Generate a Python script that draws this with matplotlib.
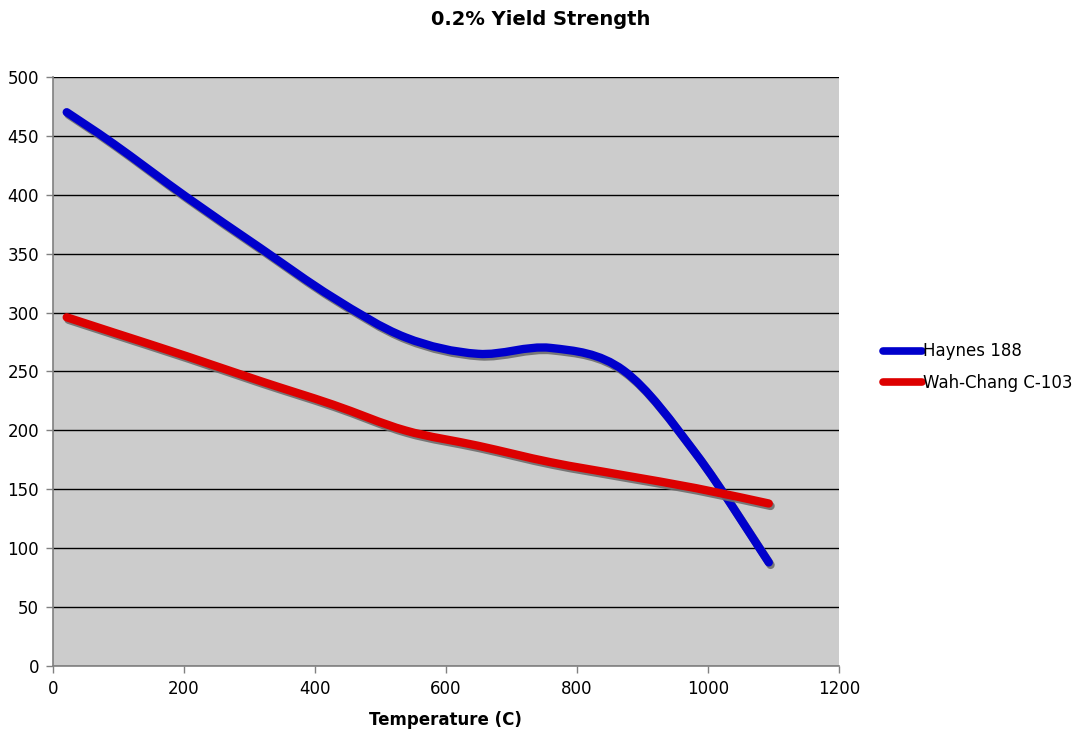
import numpy as np
import matplotlib
matplotlib.use('Agg')
import matplotlib.pyplot as plt
from matplotlib.path import Path
from matplotlib.patches import PathPatch
from matplotlib.lines import Line2D
import matplotlib.patheffects as pe

# Data
temperature = [21, 93, 204, 316, 427, 538, 649, 760, 871, 982, 1093]
haynes_188 = [470, 443, 398, 355, 313, 279, 265, 270, 251, 180, 88]
wah_chang = [296, 283, 263, 242, 222, 200, 187, 173, 162, 151, 138]

series_names = ['Haynes 188', 'Wah-Chang C-103']
series_colors = ['#0000CC', '#DD0000']


def smooth_path(x, y):
    # Excel style smoothed line: Catmull-Rom segments as cubic Bezier curves
    pts = np.column_stack([x, y]).astype(float)
    n = len(pts)
    verts = [pts[0]]
    codes = [Path.MOVETO]
    for i in range(n - 1):
        p0 = pts[i - 1] if i > 0 else pts[i]
        p1 = pts[i]
        p2 = pts[i + 1]
        p3 = pts[i + 2] if i + 2 < n else pts[i + 1]
        c1 = p1 + (p2 - p0) / 6.0
        c2 = p2 - (p3 - p1) / 6.0
        verts += [c1, c2, p2]
        codes += [Path.CURVE4] * 3
    return Path(verts, codes)


fig = plt.figure(figsize=(10.81, 7.32), dpi=100)
ax = fig.add_axes([0.049, 0.090, 0.727, 0.805])
ax.set_facecolor('#CCCCCC')

ax.set_xlim(0, 1200)
ax.set_ylim(0, 500)
ax.set_xticks(range(0, 1201, 200))
ax.set_yticks(range(0, 501, 50))
ax.yaxis.grid(True, color='black', lw=1.0)
ax.set_axisbelow(True)

for s in ['top', 'right']:
    ax.spines[s].set_visible(False)
for s in ['left', 'bottom']:
    ax.spines[s].set_color('#808080')
    ax.spines[s].set_linewidth(1.2)

ax.tick_params(direction='out', length=5, width=1, color='#808080',
               labelsize=12, pad=5)

shadow = [pe.SimpleLineShadow(offset=(1.3, -1.8), shadow_color='#6E6E6E', alpha=0.9),
          pe.Normal()]

for vals, col in zip([haynes_188, wah_chang], series_colors):
    patch = PathPatch(smooth_path(temperature, vals), fill=False, edgecolor=col,
                      lw=6, capstyle='round', joinstyle='round', zorder=3)
    patch.set_path_effects(shadow)
    ax.add_patch(patch)

handles = [Line2D([0], [0], color=c, lw=5.5, solid_capstyle='round') for c in series_colors]
leg = fig.legend(handles, series_names, loc='center left', bbox_to_anchor=(0.8025, 0.4986),
                 frameon=False, fontsize=12, handlelength=2.35, handletextpad=0.1,
                 labelspacing=0.8)

fig.suptitle('0.2% Yield Strength', y=0.987, fontsize=14, fontweight='bold')
ax.set_xlabel('Temperature (C)', fontsize=12, fontweight='bold', labelpad=9)

fig.savefig('out.png', dpi=100)
